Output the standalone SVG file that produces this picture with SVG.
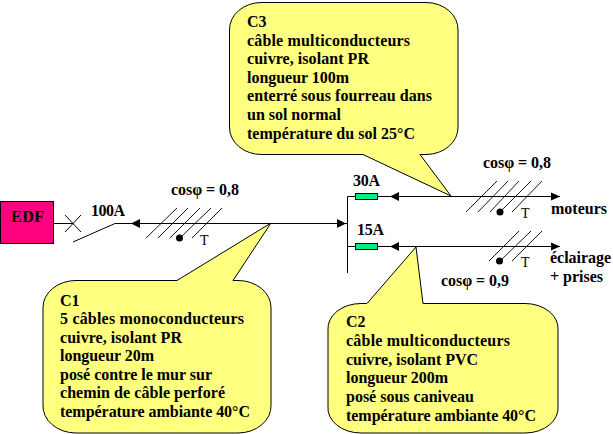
<svg xmlns="http://www.w3.org/2000/svg" width="613" height="434" viewBox="0 0 613 434">
<style>
text{font-family:"Liberation Serif","Times New Roman",serif;font-size:16px;font-weight:bold;fill:#000}
.t{font-weight:normal;font-size:14px}
.w{stroke:#000;stroke-width:1;fill:none}
.h{stroke:#000;stroke-width:.9;fill:none}
.c{fill:#ffff80;stroke:#000;stroke-width:1}
.f{fill:#00f080;stroke:#000;stroke-width:1}
</style>
<defs>
<marker id="a" markerUnits="userSpaceOnUse" markerWidth="10" markerHeight="10" refX="9" refY="5" orient="auto-start-reverse"><path d="M0 1L9 5L0 9Z" fill="#000"/></marker>
</defs>
<rect width="613" height="434" fill="#fff"/>
<g id="connectors">
<path class="w" d="M53.500 223.500H73M65 215L81 232M81 215L65 232M73 242L115 223.500H347"/>
<path class="w" d="M347.500 196.500V273"/>
<path class="w" d="M347.500 196.500H355M378 196.500H560" marker-end="url(#a)"/>
<path class="w" d="M347.500 246.500H355M378 246.500H560" marker-end="url(#a)"/>
<path d="M131 223.500L140 219V228Z M390 196.500L399 192V201Z M390 246.500L399 242V251Z M337 219L346 223.500L337 228Z" fill="#000"/>
<path class="h" d="M146 238L177 208M158 238L188 208M170 238L200 208M180 238L211 208M192 238L222 208"/>
<path class="h" d="M466 212L497 181M478 212L508 181M490 212L519 181M500 212L531 181M512 212L542 181"/>
<path class="h" d="M489 261L519 231M500 261L531 231M512 261L542 231"/>
<circle cx="179.500" cy="238" r="3.500"/><circle cx="500" cy="212" r="3.500"/><circle cx="499.500" cy="261" r="3.500"/>
</g>
<g id="edf"><rect x="0.500" y="201.500" width="53" height="42" fill="#ff0080" stroke="#000"/><text x="11" y="222" textLength="33">EDF</text></g>
<g id="labels">
<text x="91" y="216" textLength="34">100A</text>
<text x="171" y="195" textLength="68">cosφ = 0,8</text>
<text class="t" x="200" y="245">T</text>
<text x="353" y="186" textLength="27">30A</text>
<text x="357" y="235" textLength="27">15A</text>
<text x="483" y="168" textLength="68">cosφ = 0,8</text>
<text class="t" x="521" y="218">T</text>
<text class="t" x="521" y="267">T</text>
<text x="441" y="286" textLength="68">cosφ = 0,9</text>
<text x="551" y="214" textLength="56">moteurs</text>
<text x="550" y="263" textLength="61">éclairage</text>
<text x="550" y="282" textLength="53">+ prises</text>
</g>
<g id="fuses"><rect class="f" x="355.500" y="193.500" width="22" height="6"/><rect class="f" x="355.500" y="243.500" width="22" height="6"/></g>
<g id="C3">
<path class="c" d="M262 2.500H426A32 27 0 0 1 458 30V127A32 27 0 0 1 426 154.500H420L451 196L363 154.500H262A32 27 0 0 1 229.500 127V30A32 27 0 0 1 262 2.500Z"/>
<text x="247" y="27">C3</text>
<text x="247" y="46" textLength="163">câble multiconducteurs</text>
<text x="247" y="64" textLength="122">cuivre, isolant PR</text>
<text x="247" y="83" textLength="102">longueur 100m</text>
<text x="247" y="101" textLength="185">enterré sous fourreau dans</text>
<text x="247" y="120" textLength="94">un sol normal</text>
<text x="247" y="139" textLength="168">température du sol 25°C</text>
</g>
<g id="C1">
<path class="c" d="M76 280.500H177L271 223L233 280.500H238A33 27 0 0 1 271 308V405A33 27 0 0 1 238 433H76A33 27 0 0 1 43 405V308A33 27 0 0 1 76 280.500Z"/>
<text x="60" y="306">C1</text>
<text x="60" y="324" textLength="184">5 câbles monoconducteurs</text>
<text x="60" y="343" textLength="122">cuivre, isolant PR</text>
<text x="60" y="361" textLength="94">longueur 20m</text>
<text x="60" y="380" textLength="152">posé contre le mur sur</text>
<text x="60" y="398" textLength="165">chemin de câble perforé</text>
<text x="60" y="417" textLength="190">température ambiante 40°C</text>
</g>
<g id="C2">
<path class="c" d="M361 303.500H367L416 247L423 303.500H525A33 25 0 0 1 558 330V406A33 25 0 0 1 525 433H361A33 25 0 0 1 328 406V330A33 25 0 0 1 361 303.500Z"/>
<text x="346" y="327">C2</text>
<text x="346" y="346" textLength="164">câble multiconducteurs</text>
<text x="346" y="365" textLength="132">cuivre, isolant PVC</text>
<text x="346" y="383" textLength="102">longueur 200m</text>
<text x="346" y="402" textLength="128">posé sous caniveau</text>
<text x="346" y="421" textLength="190">température ambiante 40°C</text>
</g>
</svg>
